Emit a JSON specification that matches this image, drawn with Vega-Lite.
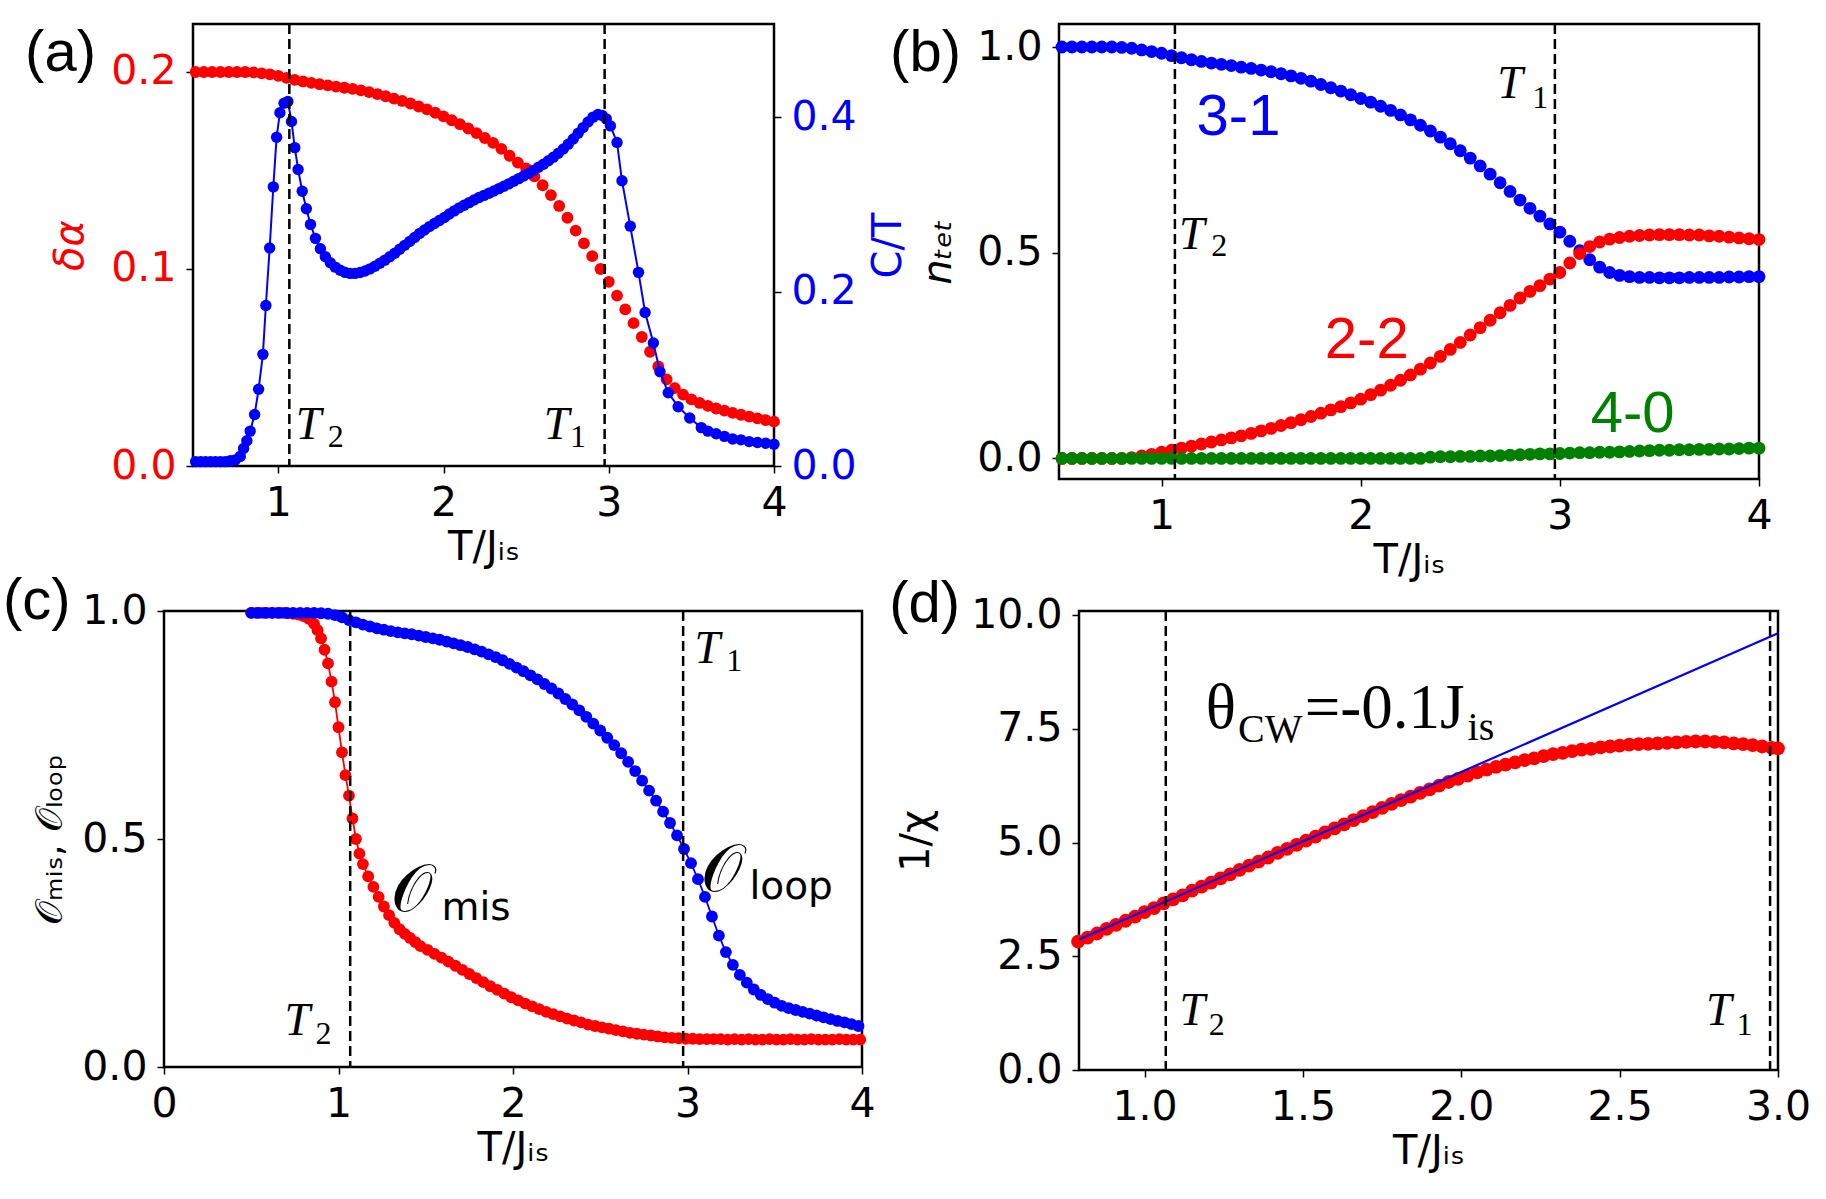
{
  "$schema": "https://vega.github.io/schema/vega-lite/v6.json",
  "background": "white",
  "padding": {"left": 0, "top": 21, "right": 0, "bottom": 0},
  "config": {
    "view": {"stroke": "#000000", "strokeWidth": 2.5},
    "axis": {
      "domain": false,
      "grid": false,
      "labelFont": "DejaVu Sans",
      "labelFontSize": 41,
      "labelColor": "#000000",
      "labelFlush": false,
      "labelOverlap": false,
      "labelBound": false,
      "labelPadding": 10,
      "tickColor": "#000000",
      "tickSize": 7,
      "tickWidth": 1.5,
      "titleFont": "DejaVu Sans",
      "titleFontSize": 40,
      "titleFontWeight": "normal",
      "titleColor": "#000000",
      "titlePadding": 12
    },
    "axisX": {"titlePadding": 4}
  },
  "datasets": {
    "tc": [{"x": 1.067}, {"x": 2.975}],
    "a_da": [
      {"x":0.50,"y":0.2},{"x":0.55,"y":0.2},{"x":0.60,"y":0.2},{"x":0.65,"y":0.2},{"x":0.70,"y":0.2},{"x":0.75,"y":0.2},{"x":0.80,"y":0.2},{"x":0.85,"y":0.1998},{"x":0.90,"y":0.1993},{"x":0.95,"y":0.1988},
      {"x":1.00,"y":0.198},{"x":1.05,"y":0.197},{"x":1.10,"y":0.196},{"x":1.15,"y":0.1952},{"x":1.20,"y":0.1945},{"x":1.25,"y":0.1938},{"x":1.30,"y":0.1932},{"x":1.35,"y":0.1926},{"x":1.40,"y":0.192},{"x":1.45,"y":0.1914},
      {"x":1.50,"y":0.1907},{"x":1.55,"y":0.1898},{"x":1.60,"y":0.1888},{"x":1.65,"y":0.1877},{"x":1.70,"y":0.1865},{"x":1.75,"y":0.1853},{"x":1.80,"y":0.184},{"x":1.85,"y":0.1825},{"x":1.90,"y":0.181},{"x":1.95,"y":0.1793},
      {"x":2.00,"y":0.1775},{"x":2.05,"y":0.1755},{"x":2.10,"y":0.1735},{"x":2.15,"y":0.1713},{"x":2.20,"y":0.169},{"x":2.25,"y":0.1665},{"x":2.30,"y":0.164},{"x":2.35,"y":0.161},{"x":2.40,"y":0.1575},{"x":2.45,"y":0.154},
      {"x":2.50,"y":0.151},{"x":2.55,"y":0.147},{"x":2.60,"y":0.1425},{"x":2.65,"y":0.1375},{"x":2.70,"y":0.132},{"x":2.75,"y":0.126},{"x":2.80,"y":0.1195},{"x":2.85,"y":0.113},{"x":2.90,"y":0.1065},{"x":2.95,"y":0.1},
      {"x":3.00,"y":0.0935},{"x":3.05,"y":0.0865},{"x":3.10,"y":0.0795},{"x":3.15,"y":0.0725},{"x":3.20,"y":0.0655},{"x":3.25,"y":0.058},{"x":3.30,"y":0.0505},{"x":3.35,"y":0.044},{"x":3.40,"y":0.0395},{"x":3.45,"y":0.0362},
      {"x":3.50,"y":0.0338},{"x":3.55,"y":0.032},{"x":3.60,"y":0.0305},{"x":3.65,"y":0.0292},{"x":3.70,"y":0.0281},{"x":3.75,"y":0.027},{"x":3.80,"y":0.026},{"x":3.85,"y":0.0251},{"x":3.90,"y":0.0242},{"x":3.95,"y":0.0233},{"x":4.00,"y":0.0225}
    ],
    "a_ct": [
      {"x":0.50,"y":0.005},{"x":0.53,"y":0.005},{"x":0.56,"y":0.005},{"x":0.59,"y":0.005},{"x":0.62,"y":0.005},{"x":0.65,"y":0.005},{"x":0.68,"y":0.005},{"x":0.71,"y":0.006},{"x":0.74,"y":0.007},{"x":0.77,"y":0.011},
      {"x":0.79,"y":0.02},{"x":0.81,"y":0.029},{"x":0.83,"y":0.04},{"x":0.857,"y":0.059},{"x":0.881,"y":0.088},{"x":0.907,"y":0.128},{"x":0.925,"y":0.184},{"x":0.948,"y":0.25},{"x":0.97,"y":0.32},{"x":0.99,"y":0.377},
      {"x":1.01,"y":0.405},{"x":1.035,"y":0.416},{"x":1.058,"y":0.418},{"x":1.08,"y":0.395},{"x":1.10,"y":0.365},{"x":1.12,"y":0.34},{"x":1.145,"y":0.315},{"x":1.17,"y":0.295},{"x":1.195,"y":0.277},{"x":1.225,"y":0.261},
      {"x":1.255,"y":0.249},{"x":1.285,"y":0.24},{"x":1.315,"y":0.233},{"x":1.345,"y":0.228},{"x":1.375,"y":0.2245},{"x":1.405,"y":0.222},{"x":1.435,"y":0.2208},{"x":1.465,"y":0.2208},{"x":1.495,"y":0.2218},{"x":1.525,"y":0.2235},
      {"x":1.555,"y":0.226},{"x":1.585,"y":0.229},{"x":1.615,"y":0.2325},{"x":1.645,"y":0.236},{"x":1.675,"y":0.24},{"x":1.705,"y":0.244},{"x":1.735,"y":0.2485},{"x":1.765,"y":0.253},{"x":1.795,"y":0.2575},{"x":1.825,"y":0.262},
      {"x":1.855,"y":0.2665},{"x":1.885,"y":0.2705},{"x":1.915,"y":0.2745},{"x":1.945,"y":0.278},{"x":1.975,"y":0.2815},{"x":2.005,"y":0.285},{"x":2.035,"y":0.289},{"x":2.065,"y":0.2925},{"x":2.095,"y":0.296},{"x":2.125,"y":0.299},
      {"x":2.155,"y":0.302},{"x":2.185,"y":0.305},{"x":2.215,"y":0.3078},{"x":2.245,"y":0.3103},{"x":2.275,"y":0.3128},{"x":2.305,"y":0.3153},{"x":2.335,"y":0.318},{"x":2.365,"y":0.3207},{"x":2.395,"y":0.3235},{"x":2.425,"y":0.3265},
      {"x":2.455,"y":0.3295},{"x":2.485,"y":0.3325},{"x":2.515,"y":0.3355},{"x":2.545,"y":0.339},{"x":2.575,"y":0.3425},{"x":2.605,"y":0.346},{"x":2.635,"y":0.35},{"x":2.665,"y":0.354},{"x":2.695,"y":0.3585},{"x":2.725,"y":0.3635},
      {"x":2.755,"y":0.369},{"x":2.785,"y":0.375},{"x":2.815,"y":0.3815},{"x":2.845,"y":0.388},{"x":2.875,"y":0.3945},{"x":2.905,"y":0.4},{"x":2.935,"y":0.403},{"x":2.96,"y":0.402},{"x":2.985,"y":0.398},{"x":3.01,"y":0.39},
      {"x":3.05,"y":0.371},{"x":3.08,"y":0.327},{"x":3.13,"y":0.275},{"x":3.18,"y":0.222},{"x":3.22,"y":0.176},{"x":3.27,"y":0.141},{"x":3.31,"y":0.108},{"x":3.36,"y":0.084},{"x":3.42,"y":0.068},{"x":3.49,"y":0.055},
      {"x":3.56,"y":0.044},{"x":3.60,"y":0.04},{"x":3.65,"y":0.037},{"x":3.70,"y":0.034},{"x":3.75,"y":0.031},{"x":3.80,"y":0.03},{"x":3.85,"y":0.028},{"x":3.90,"y":0.027},{"x":3.95,"y":0.026},{"x":4.00,"y":0.025}
    ],
    "b31": [
      {"x":0.50,"y":1.0},{"x":0.55,"y":1.0},{"x":0.60,"y":1.0},{"x":0.65,"y":1.0},{"x":0.70,"y":1.0},{"x":0.75,"y":1.0},{"x":0.80,"y":0.999},{"x":0.85,"y":0.997},{"x":0.90,"y":0.993},{"x":0.95,"y":0.989},
      {"x":1.00,"y":0.985},{"x":1.05,"y":0.979},{"x":1.10,"y":0.974},{"x":1.15,"y":0.969},{"x":1.20,"y":0.965},{"x":1.25,"y":0.961},{"x":1.30,"y":0.958},{"x":1.35,"y":0.955},{"x":1.40,"y":0.951},{"x":1.45,"y":0.948},
      {"x":1.50,"y":0.944},{"x":1.55,"y":0.94},{"x":1.60,"y":0.935},{"x":1.65,"y":0.93},{"x":1.70,"y":0.924},{"x":1.75,"y":0.917},{"x":1.80,"y":0.909},{"x":1.85,"y":0.901},{"x":1.90,"y":0.893},{"x":1.95,"y":0.884},
      {"x":2.00,"y":0.875},{"x":2.05,"y":0.866},{"x":2.10,"y":0.856},{"x":2.15,"y":0.846},{"x":2.20,"y":0.835},{"x":2.25,"y":0.823},{"x":2.30,"y":0.81},{"x":2.35,"y":0.796},{"x":2.40,"y":0.781},{"x":2.45,"y":0.765},
      {"x":2.50,"y":0.748},{"x":2.55,"y":0.73},{"x":2.60,"y":0.711},{"x":2.65,"y":0.691},{"x":2.70,"y":0.67},{"x":2.75,"y":0.649},{"x":2.80,"y":0.628},{"x":2.85,"y":0.608},{"x":2.90,"y":0.589},{"x":2.95,"y":0.57},
      {"x":3.00,"y":0.55},{"x":3.05,"y":0.528},{"x":3.10,"y":0.505},{"x":3.15,"y":0.483},{"x":3.20,"y":0.465},{"x":3.25,"y":0.452},{"x":3.30,"y":0.445},{"x":3.35,"y":0.442},{"x":3.40,"y":0.44},{"x":3.45,"y":0.44},
      {"x":3.50,"y":0.439},{"x":3.55,"y":0.439},{"x":3.60,"y":0.439},{"x":3.65,"y":0.44},{"x":3.70,"y":0.44},{"x":3.75,"y":0.44},{"x":3.80,"y":0.44},{"x":3.85,"y":0.441},{"x":3.90,"y":0.441},{"x":3.95,"y":0.442},{"x":4.00,"y":0.442}
    ],
    "b22": [
      {"x":0.50,"y":0.0},{"x":0.55,"y":0.0},{"x":0.60,"y":0.0},{"x":0.65,"y":0.0},{"x":0.70,"y":0.0},{"x":0.75,"y":0.0},{"x":0.80,"y":0.0},{"x":0.85,"y":0.002},{"x":0.90,"y":0.006},{"x":0.95,"y":0.01},
      {"x":1.00,"y":0.015},{"x":1.05,"y":0.02},{"x":1.10,"y":0.025},{"x":1.15,"y":0.03},{"x":1.20,"y":0.035},{"x":1.25,"y":0.04},{"x":1.30,"y":0.045},{"x":1.35,"y":0.05},{"x":1.40,"y":0.055},{"x":1.45,"y":0.061},
      {"x":1.50,"y":0.067},{"x":1.55,"y":0.073},{"x":1.60,"y":0.08},{"x":1.65,"y":0.087},{"x":1.70,"y":0.094},{"x":1.75,"y":0.102},{"x":1.80,"y":0.11},{"x":1.85,"y":0.118},{"x":1.90,"y":0.126},{"x":1.95,"y":0.135},
      {"x":2.00,"y":0.144},{"x":2.05,"y":0.155},{"x":2.10,"y":0.166},{"x":2.15,"y":0.178},{"x":2.20,"y":0.19},{"x":2.25,"y":0.203},{"x":2.30,"y":0.217},{"x":2.35,"y":0.232},{"x":2.40,"y":0.248},{"x":2.45,"y":0.265},
      {"x":2.50,"y":0.282},{"x":2.55,"y":0.3},{"x":2.60,"y":0.318},{"x":2.65,"y":0.336},{"x":2.70,"y":0.354},{"x":2.75,"y":0.372},{"x":2.80,"y":0.39},{"x":2.85,"y":0.406},{"x":2.90,"y":0.42},{"x":2.95,"y":0.436},
      {"x":3.00,"y":0.452},{"x":3.05,"y":0.475},{"x":3.10,"y":0.498},{"x":3.15,"y":0.515},{"x":3.20,"y":0.526},{"x":3.25,"y":0.533},{"x":3.30,"y":0.537},{"x":3.35,"y":0.54},{"x":3.40,"y":0.542},{"x":3.45,"y":0.543},
      {"x":3.50,"y":0.544},{"x":3.55,"y":0.544},{"x":3.60,"y":0.544},{"x":3.65,"y":0.543},{"x":3.70,"y":0.543},{"x":3.75,"y":0.541},{"x":3.80,"y":0.54},{"x":3.85,"y":0.538},{"x":3.90,"y":0.536},{"x":3.95,"y":0.534},{"x":4.00,"y":0.532}
    ],
    "b40": [
      {"x":0.50,"y":0.0},{"x":0.55,"y":0.0},{"x":0.60,"y":0.0},{"x":0.65,"y":0.0},{"x":0.70,"y":0.0},{"x":0.75,"y":0.0},{"x":0.80,"y":0.0},{"x":0.85,"y":0.0},{"x":0.90,"y":0.0},{"x":0.95,"y":0.0},
      {"x":1.00,"y":0.0},{"x":1.05,"y":0.0},{"x":1.10,"y":0.0},{"x":1.15,"y":0.0},{"x":1.20,"y":0.0},{"x":1.25,"y":0.0},{"x":1.30,"y":0.0},{"x":1.35,"y":0.0},{"x":1.40,"y":0.0},{"x":1.45,"y":0.0},
      {"x":1.50,"y":0.0},{"x":1.55,"y":0.0},{"x":1.60,"y":0.0},{"x":1.65,"y":0.0},{"x":1.70,"y":0.0},{"x":1.75,"y":0.0},{"x":1.80,"y":0.0},{"x":1.85,"y":0.0},{"x":1.90,"y":0.0},{"x":1.95,"y":0.0},
      {"x":2.00,"y":0.0},{"x":2.05,"y":0.0},{"x":2.10,"y":0.0},{"x":2.15,"y":0.0},{"x":2.20,"y":0.0},{"x":2.25,"y":0.0},{"x":2.30,"y":0.0},{"x":2.35,"y":0.003},{"x":2.40,"y":0.004},{"x":2.45,"y":0.004},
      {"x":2.50,"y":0.005},{"x":2.55,"y":0.005},{"x":2.60,"y":0.006},{"x":2.65,"y":0.006},{"x":2.70,"y":0.007},{"x":2.75,"y":0.008},{"x":2.80,"y":0.009},{"x":2.85,"y":0.01},{"x":2.90,"y":0.011},{"x":2.95,"y":0.011},
      {"x":3.00,"y":0.012},{"x":3.05,"y":0.013},{"x":3.10,"y":0.014},{"x":3.15,"y":0.014},{"x":3.20,"y":0.015},{"x":3.25,"y":0.015},{"x":3.30,"y":0.016},{"x":3.35,"y":0.017},{"x":3.40,"y":0.018},{"x":3.45,"y":0.019},
      {"x":3.50,"y":0.02},{"x":3.55,"y":0.02},{"x":3.60,"y":0.021},{"x":3.65,"y":0.021},{"x":3.70,"y":0.022},{"x":3.75,"y":0.022},{"x":3.80,"y":0.023},{"x":3.85,"y":0.023},{"x":3.90,"y":0.024},{"x":3.95,"y":0.025},{"x":4.00,"y":0.025}
    ],
    "c_mis": [
      {"x":0.50,"y":0.996},{"x":0.53,"y":0.996},{"x":0.56,"y":0.996},{"x":0.59,"y":0.996},{"x":0.62,"y":0.996},{"x":0.65,"y":0.996},{"x":0.68,"y":0.996},{"x":0.71,"y":0.995},{"x":0.74,"y":0.994},{"x":0.77,"y":0.992},
      {"x":0.80,"y":0.989},{"x":0.83,"y":0.983},{"x":0.86,"y":0.972},{"x":0.88,"y":0.958},{"x":0.90,"y":0.94},{"x":0.92,"y":0.915},{"x":0.94,"y":0.885},{"x":0.96,"y":0.845},{"x":0.98,"y":0.8},{"x":1.00,"y":0.745},
      {"x":1.02,"y":0.69},{"x":1.04,"y":0.64},{"x":1.06,"y":0.595},{"x":1.08,"y":0.545},{"x":1.10,"y":0.5},{"x":1.12,"y":0.468},{"x":1.14,"y":0.445},{"x":1.17,"y":0.418},{"x":1.20,"y":0.395},{"x":1.23,"y":0.373},
      {"x":1.26,"y":0.352},{"x":1.29,"y":0.333},{"x":1.32,"y":0.316},{"x":1.35,"y":0.302},{"x":1.38,"y":0.292},{"x":1.41,"y":0.283},{"x":1.44,"y":0.274},{"x":1.47,"y":0.265},{"x":1.51,"y":0.257},{"x":1.55,"y":0.248},
      {"x":1.59,"y":0.24},{"x":1.63,"y":0.231},{"x":1.67,"y":0.222},{"x":1.71,"y":0.213},{"x":1.75,"y":0.204},{"x":1.79,"y":0.195},{"x":1.83,"y":0.186},{"x":1.87,"y":0.177},{"x":1.91,"y":0.169},{"x":1.95,"y":0.161},
      {"x":1.99,"y":0.153},{"x":2.03,"y":0.146},{"x":2.07,"y":0.139},{"x":2.11,"y":0.133},{"x":2.15,"y":0.127},{"x":2.19,"y":0.121},{"x":2.23,"y":0.116},{"x":2.27,"y":0.111},{"x":2.31,"y":0.106},{"x":2.35,"y":0.102},
      {"x":2.39,"y":0.098},{"x":2.43,"y":0.093},{"x":2.47,"y":0.09},{"x":2.51,"y":0.087},{"x":2.55,"y":0.084},{"x":2.59,"y":0.081},{"x":2.63,"y":0.078},{"x":2.67,"y":0.075},{"x":2.71,"y":0.073},{"x":2.75,"y":0.071},
      {"x":2.79,"y":0.069},{"x":2.83,"y":0.067},{"x":2.87,"y":0.065},{"x":2.91,"y":0.064},{"x":2.95,"y":0.063},{"x":2.99,"y":0.062},{"x":3.03,"y":0.062},{"x":3.07,"y":0.061},{"x":3.11,"y":0.061},{"x":3.15,"y":0.061},
      {"x":3.19,"y":0.061},{"x":3.23,"y":0.06},{"x":3.27,"y":0.061},{"x":3.31,"y":0.06},{"x":3.35,"y":0.061},{"x":3.39,"y":0.06},{"x":3.43,"y":0.06},{"x":3.47,"y":0.061},{"x":3.51,"y":0.06},{"x":3.55,"y":0.06},
      {"x":3.59,"y":0.061},{"x":3.63,"y":0.06},{"x":3.67,"y":0.06},{"x":3.71,"y":0.061},{"x":3.75,"y":0.06},{"x":3.79,"y":0.06},{"x":3.83,"y":0.06},{"x":3.87,"y":0.061},{"x":3.91,"y":0.06},{"x":3.95,"y":0.06},{"x":3.99,"y":0.06}
    ],
    "c_loop": [
      {"x":0.50,"y":0.996},{"x":0.54,"y":0.996},{"x":0.58,"y":0.996},{"x":0.62,"y":0.996},{"x":0.66,"y":0.996},{"x":0.70,"y":0.996},{"x":0.74,"y":0.996},{"x":0.78,"y":0.996},{"x":0.82,"y":0.996},{"x":0.86,"y":0.996},
      {"x":0.90,"y":0.995},{"x":0.94,"y":0.994},{"x":0.98,"y":0.991},{"x":1.02,"y":0.986},{"x":1.06,"y":0.98},{"x":1.10,"y":0.975},{"x":1.14,"y":0.97},{"x":1.18,"y":0.966},{"x":1.22,"y":0.962},{"x":1.26,"y":0.959},
      {"x":1.30,"y":0.956},{"x":1.34,"y":0.953},{"x":1.38,"y":0.951},{"x":1.42,"y":0.949},{"x":1.46,"y":0.946},{"x":1.50,"y":0.943},{"x":1.54,"y":0.94},{"x":1.58,"y":0.937},{"x":1.62,"y":0.933},{"x":1.66,"y":0.929},
      {"x":1.70,"y":0.925},{"x":1.74,"y":0.921},{"x":1.78,"y":0.916},{"x":1.82,"y":0.911},{"x":1.86,"y":0.905},{"x":1.90,"y":0.899},{"x":1.94,"y":0.892},{"x":1.98,"y":0.884},{"x":2.02,"y":0.876},{"x":2.06,"y":0.868},
      {"x":2.10,"y":0.859},{"x":2.14,"y":0.85},{"x":2.18,"y":0.84},{"x":2.22,"y":0.83},{"x":2.26,"y":0.819},{"x":2.30,"y":0.807},{"x":2.34,"y":0.795},{"x":2.38,"y":0.782},{"x":2.42,"y":0.768},{"x":2.46,"y":0.753},
      {"x":2.50,"y":0.738},{"x":2.54,"y":0.722},{"x":2.58,"y":0.706},{"x":2.62,"y":0.688},{"x":2.66,"y":0.669},{"x":2.70,"y":0.649},{"x":2.74,"y":0.628},{"x":2.78,"y":0.606},{"x":2.82,"y":0.584},{"x":2.86,"y":0.56},
      {"x":2.90,"y":0.535},{"x":2.94,"y":0.508},{"x":2.98,"y":0.478},{"x":3.02,"y":0.447},{"x":3.06,"y":0.412},{"x":3.10,"y":0.373},{"x":3.14,"y":0.33},{"x":3.18,"y":0.288},{"x":3.22,"y":0.252},{"x":3.26,"y":0.224},
      {"x":3.30,"y":0.202},{"x":3.34,"y":0.185},{"x":3.38,"y":0.17},{"x":3.42,"y":0.158},{"x":3.46,"y":0.149},{"x":3.50,"y":0.141},{"x":3.54,"y":0.134},{"x":3.58,"y":0.129},{"x":3.62,"y":0.125},{"x":3.66,"y":0.121},
      {"x":3.70,"y":0.117},{"x":3.74,"y":0.113},{"x":3.78,"y":0.109},{"x":3.82,"y":0.105},{"x":3.86,"y":0.101},{"x":3.90,"y":0.098},{"x":3.94,"y":0.094},{"x":3.98,"y":0.09}
    ],
    "d_chi": [
      {"x":0.79,"y":2.82},{"x":0.82,"y":2.91},{"x":0.85,"y":3.0},{"x":0.88,"y":3.1},{"x":0.91,"y":3.19},{"x":0.94,"y":3.28},{"x":0.97,"y":3.37},{"x":1.00,"y":3.47},{"x":1.03,"y":3.56},{"x":1.06,"y":3.66},
      {"x":1.09,"y":3.75},{"x":1.12,"y":3.84},{"x":1.15,"y":3.94},{"x":1.18,"y":4.03},{"x":1.21,"y":4.12},{"x":1.24,"y":4.21},{"x":1.27,"y":4.3},{"x":1.30,"y":4.4},{"x":1.33,"y":4.49},{"x":1.36,"y":4.58},
      {"x":1.39,"y":4.67},{"x":1.42,"y":4.77},{"x":1.45,"y":4.86},{"x":1.48,"y":4.95},{"x":1.51,"y":5.04},{"x":1.54,"y":5.13},{"x":1.57,"y":5.22},{"x":1.60,"y":5.31},{"x":1.63,"y":5.4},{"x":1.66,"y":5.49},
      {"x":1.69,"y":5.58},{"x":1.72,"y":5.67},{"x":1.75,"y":5.76},{"x":1.78,"y":5.85},{"x":1.81,"y":5.93},{"x":1.84,"y":6.01},{"x":1.87,"y":6.09},{"x":1.90,"y":6.17},{"x":1.93,"y":6.25},{"x":1.96,"y":6.33},
      {"x":1.99,"y":6.4},{"x":2.02,"y":6.47},{"x":2.05,"y":6.54},{"x":2.08,"y":6.6},{"x":2.11,"y":6.66},{"x":2.14,"y":6.71},{"x":2.17,"y":6.76},{"x":2.20,"y":6.81},{"x":2.23,"y":6.85},{"x":2.26,"y":6.9},
      {"x":2.29,"y":6.94},{"x":2.32,"y":6.97},{"x":2.35,"y":7.01},{"x":2.38,"y":7.04},{"x":2.41,"y":7.06},{"x":2.44,"y":7.09},{"x":2.47,"y":7.11},{"x":2.50,"y":7.13},{"x":2.53,"y":7.15},{"x":2.56,"y":7.16},
      {"x":2.59,"y":7.17},{"x":2.62,"y":7.18},{"x":2.65,"y":7.19},{"x":2.68,"y":7.2},{"x":2.71,"y":7.21},{"x":2.74,"y":7.22},{"x":2.77,"y":7.22},{"x":2.80,"y":7.21},{"x":2.83,"y":7.2},{"x":2.86,"y":7.18},
      {"x":2.89,"y":7.16},{"x":2.92,"y":7.14},{"x":2.95,"y":7.11},{"x":2.98,"y":7.08},{"x":3.00,"y":7.07}
    ],
    "d_fit": [{"x": 0.793, "y": 2.87}, {"x": 3.0, "y": 9.6}]
  },
  "spacing": -11,
  "bounds": "full",
  "vconcat": [
    {
      "spacing": 0,
      "bounds": "full",
      "hconcat": [
        {
          "width": 23,
          "height": 1,
          "view": {"stroke": null, "fill": "#ffffff"},
          "data": {"values": []},
          "mark": {"type": "point", "opacity": 0}
        },
        {
          "spacing": 285,
          "bounds": "flush",
          "hconcat": [
            {
              "width": 581,
              "height": 442,
              "encoding": {
                "x": {"field": "x", "type": "quantitative", "scale": {"domain": [0.484, 4], "nice": false, "zero": false}, "axis": {"values": [1, 2, 3, 4], "format": "d", "title": "T/Jᵢₛ"}}
              },
              "layer": [
                {
                  "encoding": {
                    "y": {"field": "y", "type": "quantitative", "scale": {"domain": [0, 0.22436], "nice": false, "zero": false}, "axis": {"values": [0, 0.1, 0.2], "format": ".1f", "labelColor": "#ff0000", "title": "δα", "titleColor": "#ff0000", "titleFontStyle": "italic", "titlePadding": 20}}
                  },
                  "layer": [
                    {"data": {"name": "a_da"}, "mark": {"type": "circle", "size": 140, "color": "#ff0000", "opacity": 1}},
                    {"data": {"values": [{"x": 1.106, "y": 0.0136}, {"x": 2.606, "y": 0.0136}]}, "mark": {"type": "text", "text": "T", "font": "Liberation Serif", "fontStyle": "italic", "fontSize": 46, "align": "left", "baseline": "alphabetic", "color": "#000000"}},
                    {"data": {"values": [{"x": 1.3, "y": 0.0097, "s": "2"}, {"x": 2.765, "y": 0.0097, "s": "1"}]}, "mark": {"type": "text", "font": "Liberation Serif", "fontSize": 32, "align": "left", "baseline": "alphabetic", "color": "#000000"}, "encoding": {"text": {"field": "s"}}},
                    {"data": {"values": [{"x": -0.532, "y": 0.2005, "s": "(a)"}]}, "mark": {"type": "text", "font": "Liberation Sans", "fontSize": 58, "align": "left", "baseline": "alphabetic", "color": "#000000"}, "encoding": {"text": {"field": "s"}}}
                  ]
                },
                {
                  "encoding": {
                    "y": {"field": "y", "type": "quantitative", "scale": {"domain": [0, 0.50677], "nice": false, "zero": false}, "axis": {"orient": "right", "values": [0, 0.2, 0.4], "format": ".1f", "labelColor": "#0000ff", "title": "C/T", "titleColor": "#0000ff", "titleAngle": 270, "titleBaseline": "top"}}
                  },
                  "layer": [
                    {"data": {"name": "a_ct"}, "mark": {"type": "line", "color": "#0000ff", "strokeWidth": 2}, "encoding": {}},
                    {"data": {"name": "a_ct"}, "mark": {"type": "circle", "size": 130, "color": "#0000ff", "opacity": 1}}
                  ]
                },
                {"data": {"name": "tc"}, "mark": {"type": "rule", "color": "#000000", "strokeWidth": 2.5, "strokeDash": [10, 5]}, "encoding": {}}
              ],
              "resolve": {"scale": {"y": "independent"}}
            },
            {
              "width": 700,
              "height": 455,
              "encoding": {
                "x": {"field": "x", "type": "quantitative", "scale": {"domain": [0.485, 4], "nice": false, "zero": false}, "axis": {"values": [1, 2, 3, 4], "format": "d", "title": "T/Jᵢₛ"}}
              },
              "layer": [
                {
                  "encoding": {
                    "y": {"field": "y", "type": "quantitative", "scale": {"domain": [-0.05, 1.056], "nice": false, "zero": false}, "axis": {"values": [0, 0.5, 1], "format": ".1f", "title": "nₜₑₜ", "titleFontStyle": "italic", "titlePadding": 18}}
                  },
                  "layer": [
                    {"data": {"name": "b31"}, "mark": {"type": "circle", "size": 165, "color": "#0000ff", "opacity": 1}},
                    {"data": {"name": "b22"}, "mark": {"type": "circle", "size": 165, "color": "#ff0000", "opacity": 1}},
                    {"data": {"name": "b40"}, "mark": {"type": "circle", "size": 165, "color": "#008000", "opacity": 1}},
                    {"data": {"values": [{"x": 2.686, "y": 0.875}, {"x": 1.088, "y": 0.509}]}, "mark": {"type": "text", "text": "T", "font": "Liberation Serif", "fontStyle": "italic", "fontSize": 46, "align": "left", "baseline": "alphabetic", "color": "#000000"}},
                    {"data": {"values": [{"x": 2.862, "y": 0.852, "s": "1"}, {"x": 1.249, "y": 0.491, "s": "2"}]}, "mark": {"type": "text", "font": "Liberation Serif", "fontSize": 32, "align": "left", "baseline": "alphabetic", "color": "#000000"}, "encoding": {"text": {"field": "s"}}},
                    {"data": {"values": [{"x": 1.176, "y": 0.787, "s": "3-1"}]}, "mark": {"type": "text", "font": "Liberation Sans", "fontSize": 58, "align": "left", "baseline": "alphabetic", "color": "#0000ff"}, "encoding": {"text": {"field": "s"}}},
                    {"data": {"values": [{"x": 1.82, "y": 0.245, "s": "2-2"}]}, "mark": {"type": "text", "font": "Liberation Sans", "fontSize": 58, "align": "left", "baseline": "alphabetic", "color": "#ff0000"}, "encoding": {"text": {"field": "s"}}},
                    {"data": {"values": [{"x": 3.155, "y": 0.065, "s": "4-0"}]}, "mark": {"type": "text", "font": "Liberation Sans", "fontSize": 58, "align": "left", "baseline": "alphabetic", "color": "#008000"}, "encoding": {"text": {"field": "s"}}},
                    {"data": {"values": [{"x": -0.363, "y": 0.942, "s": "(b)"}]}, "mark": {"type": "text", "font": "Liberation Sans", "fontSize": 58, "align": "left", "baseline": "alphabetic", "color": "#000000"}, "encoding": {"text": {"field": "s"}}}
                  ]
                },
                {"data": {"name": "tc"}, "mark": {"type": "rule", "color": "#000000", "strokeWidth": 2.5, "strokeDash": [10, 5]}, "encoding": {}}
              ]
            }
          ]
        }
      ]
    },
    {
      "spacing": 0,
      "bounds": "full",
      "hconcat": [
        {
          "width": 1,
          "height": 1,
          "view": {"stroke": null, "fill": "#ffffff"},
          "data": {"values": []},
          "mark": {"type": "point", "opacity": 0}
        },
        {
          "spacing": 217,
          "bounds": "flush",
          "hconcat": [
            {
              "width": 698,
              "height": 456,
              "encoding": {
                "x": {"field": "x", "type": "quantitative", "scale": {"domain": [0, 4], "nice": false, "zero": false}, "axis": {"values": [0, 1, 2, 3, 4], "format": "d", "title": "T/Jᵢₛ"}}
              },
              "layer": [
                {
                  "encoding": {
                    "y": {"field": "y", "type": "quantitative", "scale": {"domain": [0, 1], "nice": false, "zero": false}, "axis": {"values": [0, 0.5, 1], "format": ".1f", "title": "𝒪ₘᵢₛ, 𝒪ₗₒₒₚ", "titleFontSize": 38}}
                  },
                  "layer": [
                    {"data": {"name": "c_mis"}, "mark": {"type": "line", "color": "#ff0000", "strokeWidth": 1.8}, "encoding": {}},
                    {"data": {"name": "c_mis"}, "mark": {"type": "circle", "size": 140, "color": "#ff0000", "opacity": 1}},
                    {"data": {"name": "c_loop"}, "mark": {"type": "line", "color": "#0000ff", "strokeWidth": 1.8}, "encoding": {}},
                    {"data": {"name": "c_loop"}, "mark": {"type": "circle", "size": 140, "color": "#0000ff", "opacity": 1}},
                    {"data": {"values": [{"x": 3.04, "y": 0.886}, {"x": 0.691, "y": 0.07}]}, "mark": {"type": "text", "text": "T", "font": "Liberation Serif", "fontStyle": "italic", "fontSize": 46, "align": "left", "baseline": "alphabetic", "color": "#000000"}},
                    {"data": {"values": [{"x": 3.222, "y": 0.868, "s": "1"}, {"x": 0.868, "y": 0.051, "s": "2"}]}, "mark": {"type": "text", "font": "Liberation Serif", "fontSize": 32, "align": "left", "baseline": "alphabetic", "color": "#000000"}, "encoding": {"text": {"field": "s"}}},
                    {"data": {"values": [{"x": 1.3, "y": 0.342}, {"x": 3.075, "y": 0.386}]}, "mark": {"type": "text", "text": "𝒪", "font": "DejaVu Sans", "fontSize": 66, "align": "left", "baseline": "alphabetic", "color": "#000000"}},
                    {"data": {"values": [{"x": 1.59, "y": 0.323, "s": "mis"}, {"x": 3.355, "y": 0.368, "s": "loop"}]}, "mark": {"type": "text", "font": "DejaVu Sans", "fontSize": 39, "align": "left", "baseline": "alphabetic", "color": "#000000"}, "encoding": {"text": {"field": "s"}}},
                    {"data": {"values": [{"x": -0.9226, "y": 0.982, "s": "(c)"}]}, "mark": {"type": "text", "font": "Liberation Sans", "fontSize": 58, "align": "left", "baseline": "alphabetic", "color": "#000000"}, "encoding": {"text": {"field": "s"}}}
                  ]
                },
                {"data": {"name": "tc"}, "mark": {"type": "rule", "color": "#000000", "strokeWidth": 2.5, "strokeDash": [10, 5]}, "encoding": {}}
              ]
            },
            {
              "width": 699,
              "height": 459,
              "encoding": {
                "x": {"field": "x", "type": "quantitative", "scale": {"domain": [0.793, 3.0], "nice": false, "zero": false}, "axis": {"values": [1, 1.5, 2, 2.5, 3], "format": ".1f", "title": "T/Jᵢₛ"}}
              },
              "layer": [
                {
                  "encoding": {
                    "y": {"field": "y", "type": "quantitative", "scale": {"domain": [0, 10.088], "nice": false, "zero": false}, "axis": {"values": [0, 2.5, 5, 7.5, 10], "format": ".1f", "title": "1/χ", "titlePadding": 34}}
                  },
                  "layer": [
                    {"data": {"name": "d_chi"}, "mark": {"type": "circle", "size": 190, "color": "#ff0000", "opacity": 1}},
                    {"data": {"name": "d_fit"}, "mark": {"type": "line", "color": "#0000ff", "strokeWidth": 2.2}, "encoding": {}},
                    {"data": {"values": [{"x": 1.11, "y": 1.0}, {"x": 2.773, "y": 1.0}]}, "mark": {"type": "text", "text": "T", "font": "Liberation Serif", "fontStyle": "italic", "fontSize": 46, "align": "left", "baseline": "alphabetic", "color": "#000000"}},
                    {"data": {"values": [{"x": 1.203, "y": 0.78, "s": "2"}, {"x": 2.869, "y": 0.78, "s": "1"}]}, "mark": {"type": "text", "font": "Liberation Serif", "fontSize": 32, "align": "left", "baseline": "alphabetic", "color": "#000000"}, "encoding": {"text": {"field": "s"}}},
                    {"data": {"values": [{"x": 1.193, "y": 7.51, "s": "θ"}, {"x": 1.506, "y": 7.51, "s": "=-0.1J"}]}, "mark": {"type": "text", "font": "Liberation Serif", "fontSize": 63, "align": "left", "baseline": "alphabetic", "color": "#000000"}, "encoding": {"text": {"field": "s"}}},
                    {"data": {"values": [{"x": 1.295, "y": 7.2, "s": "CW"}, {"x": 2.02, "y": 7.25, "s": "is"}]}, "mark": {"type": "text", "font": "Liberation Serif", "fontSize": 40, "align": "left", "baseline": "alphabetic", "color": "#000000"}, "encoding": {"text": {"field": "s"}}},
                    {"data": {"values": [{"x": 0.194, "y": 9.84, "s": "(d)"}]}, "mark": {"type": "text", "font": "Liberation Sans", "fontSize": 58, "align": "left", "baseline": "alphabetic", "color": "#000000"}, "encoding": {"text": {"field": "s"}}}
                  ]
                },
                {"data": {"name": "tc"}, "mark": {"type": "rule", "color": "#000000", "strokeWidth": 2.5, "strokeDash": [10, 5]}, "encoding": {}}
              ]
            }
          ]
        }
      ]
    }
  ]
}
